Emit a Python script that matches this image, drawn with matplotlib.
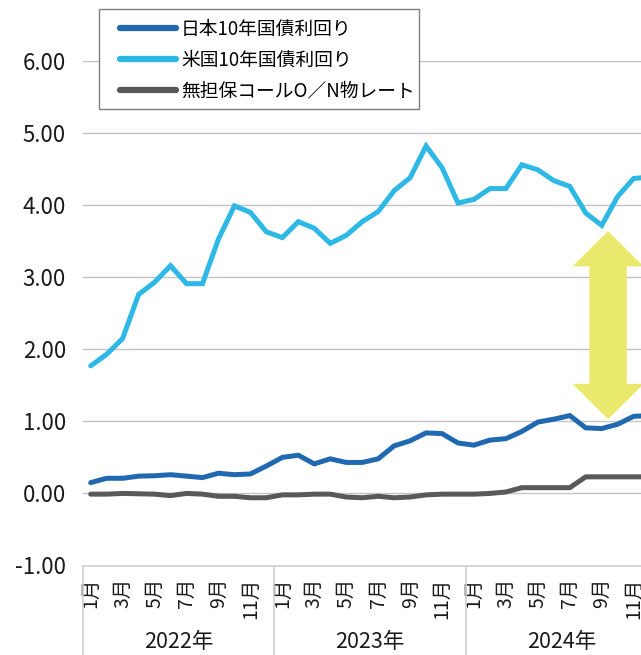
import numpy as np
import matplotlib
matplotlib.use('Agg')
import matplotlib.pyplot as plt
from matplotlib.patches import Polygon, Rectangle
from matplotlib.ticker import FormatStrFormatter
import matplotlib.transforms as mtransforms

plt.rcParams['font.family'] = ['Noto Sans CJK JP', 'DejaVu Sans']

# ==============================
# データ (2022年1月〜2024年12月, 月次)
# ==============================
years = ['2022年', '2023年', '2024年']
month_labels = ['1月', '3月', '5月', '7月', '9月', '11月']

jgb_10y = [0.15, 0.21, 0.21, 0.24, 0.245, 0.26, 0.24, 0.22, 0.28, 0.26, 0.27, 0.38,
           0.50, 0.53, 0.41, 0.48, 0.43, 0.43, 0.48, 0.66, 0.73, 0.84, 0.83, 0.70,
           0.67, 0.74, 0.76, 0.86, 0.99, 1.03, 1.08, 0.91, 0.90, 0.96, 1.07, 1.08]
ust_10y = [1.77, 1.93, 2.15, 2.76, 2.93, 3.16, 2.91, 2.91, 3.53, 3.99, 3.90, 3.63,
           3.55, 3.77, 3.68, 3.47, 3.58, 3.77, 3.91, 4.20, 4.38, 4.82, 4.52, 4.03,
           4.08, 4.23, 4.23, 4.56, 4.49, 4.34, 4.26, 3.89, 3.72, 4.12, 4.37, 4.39]
call_rate = [-0.01, -0.01, 0.00, -0.005, -0.01, -0.03, 0.00, -0.01, -0.04, -0.04, -0.06, -0.06,
             -0.02, -0.02, -0.01, -0.01, -0.05, -0.06, -0.04, -0.06, -0.05, -0.02, -0.01, -0.01,
             -0.01, 0.00, 0.02, 0.08, 0.08, 0.08, 0.08, 0.23, 0.23, 0.23, 0.23, 0.23]

labels = ['日本10年国債利回り', '米国10年国債利回り', '無担保コールO／N物レート']
colors = ['#2068B0', '#2DB8E5', '#595959']

# 矢印 (金利差)
arrow_x = 32.4
arrow_top = 3.64
arrow_bottom = 1.03

# ==============================
# 描画
# ==============================
W, H = 641, 655
fig = plt.figure(figsize=(W / 100, H / 100), dpi=100, facecolor='white')
month_w = 15.97
ax_left, ax_right = 82.7, 641
ax_bottom, ax_top = 565.5, 61
ax = fig.add_axes([ax_left / W, (H - ax_bottom) / H,
                   (ax_right - ax_left) / W, (ax_bottom - ax_top) / H])

x = np.arange(len(jgb_10y))
for vals, lab, col in zip([jgb_10y, ust_10y, call_rate], labels, colors):
    ax.plot(x, vals, color=col, lw=3.6, label=lab, solid_capstyle='round',
            solid_joinstyle='miter', zorder=3)

ax.set_xlim(-0.5, -0.5 + (ax_right - ax_left) / month_w)
ax.set_ylim(-1, 6)
ax.set_yticks(np.arange(-1, 7))
ax.yaxis.set_major_formatter(FormatStrFormatter('%.2f'))
ax.grid(axis='y', color='#C4C4C4', lw=1.0)
ax.set_axisbelow(True)
for s in ['top', 'right', 'left']:
    ax.spines[s].set_visible(False)
ax.spines['bottom'].set_color('#D0D0D0')
ax.spines['bottom'].set_linewidth(1.2)
ax.tick_params(axis='y', length=0, pad=12, labelsize=16, labelcolor='#1a1a1a')

# 月ラベル
tick_pos = np.arange(0, len(years) * 12, 2)
tick_lab = month_labels * len(years)
ax.set_xticks(tick_pos)
ax.set_xticklabels(tick_lab, rotation=90, fontsize=14, color='#1a1a1a')
ax.tick_params(axis='x', length=0, pad=9)

# 年ラベルと区切り線
trans = mtransforms.blended_transform_factory(ax.transData, fig.transFigure)
for i, yr in enumerate(years):
    ax.text(i * 12 + 5.5, 1.5 / H, yr, transform=trans,
            ha='center', va='bottom', fontsize=15.5, color='#1a1a1a', clip_on=False)
    ax.plot([i * 12 - 0.5] * 2, [(H - ax_bottom) / H, 0], transform=trans,
            color='#D0D0D0', lw=1.2, clip_on=False)

# 金利差の矢印
head_h = 0.49
head_w = 2.23
shaft_w = 1.17
pts = [(arrow_x, arrow_top),
       (arrow_x + head_w, arrow_top - head_h),
       (arrow_x + shaft_w, arrow_top - head_h),
       (arrow_x + shaft_w, arrow_bottom + head_h),
       (arrow_x + head_w, arrow_bottom + head_h),
       (arrow_x, arrow_bottom),
       (arrow_x - head_w, arrow_bottom + head_h),
       (arrow_x - shaft_w, arrow_bottom + head_h),
       (arrow_x - shaft_w, arrow_top - head_h),
       (arrow_x - head_w, arrow_top - head_h)]
ax.add_patch(Polygon(pts, closed=True, facecolor='#E9EA6D', edgecolor='none', zorder=4))

# 凡例 (枠は別に描く)
ax.add_patch(Rectangle((99 / W, 1 - 109 / H), (419 - 99) / W, (109 - 9) / H,
                       transform=fig.transFigure, facecolor='white',
                       edgecolor='#7F7F7F', lw=1.0, zorder=5, clip_on=False))
leg = ax.legend(loc='upper left', bbox_to_anchor=(120 / W, 1 - 19 / H),
                bbox_transform=fig.transFigure, frameon=False, fontsize=13.5,
                handlelength=3.0, handletextpad=0.25, labelspacing=0.52,
                borderpad=0, borderaxespad=0)
for line in leg.get_lines():
    line.set_linewidth(4.5)
    line.set_solid_capstyle('round')
leg.set_zorder(6)

fig.savefig('out.png', dpi=100, facecolor='white')
